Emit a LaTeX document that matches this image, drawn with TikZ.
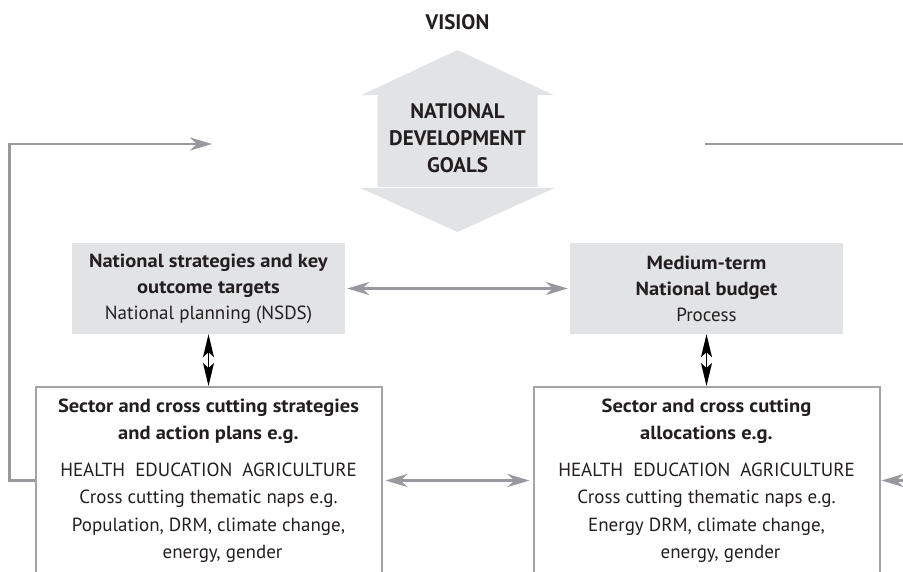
\documentclass[tikz,border=0pt]{standalone}
\usepackage{fontspec}
\setmainfont{PT Sans}[BoldFeatures={FakeStretch=1.08}]
\newfontfamily\headfont{PT Sans}
\usepackage{tikz}
\usetikzlibrary{arrows.meta, positioning, calc}
\definecolor{boxgrey}{RGB}{226,227,229}
\definecolor{linegrey}{RGB}{152,153,156}
\definecolor{edgegrey}{RGB}{163,164,166}
\definecolor{inkgrey}{RGB}{35,31,32}
\tikzset{
  headline/.style={text=inkgrey, align=center, inner sep=0pt, font=\headfont\bfseries\fontsize{21}{27}\selectfont},
  greybox/.style={fill=boxgrey, text=inkgrey, minimum width=273pt, minimum height=91pt, align=center, inner sep=0pt, font=\fontsize{19}{26}\selectfont},
  planbox/.style={draw=edgegrey, line width=2pt, fill=white, text=inkgrey, minimum width=346pt, minimum height=187pt, align=center, inner sep=0pt, font=\fontsize{19}{27.3}\selectfont},
  link/.style={draw=linegrey, line width=2.8pt, -{Stealth[length=22pt,width=13pt,inset=7pt]}},
  twoway/.style={draw=linegrey, line width=2.8pt, {Stealth[length=22pt,width=13pt,inset=7pt]}-{Stealth[length=22pt,width=13pt,inset=7pt]}},
  updown/.style={draw=black, line width=1.6pt, {Stealth[length=23pt,width=11pt,inset=5pt]}-{Stealth[length=23pt,width=11pt,inset=5pt]}}
}
\begin{document}
\begin{tikzpicture}[x=1pt, y=-1pt]
\useasboundingbox (0,0) rectangle (903,571);
\clip (0,0) rectangle (903,571);
\pgfmathsetmacro{\midx}{457.5}
\pgfmathsetmacro{\leftx}{208.5}
\pgfmathsetmacro{\rightx}{706.5}
\fill[boxgrey] (\midx,50) -- ++(96,45) -- ++(-16,0) -- ++(0,92) -- ++(-160,0) -- ++(0,-92) -- ++(-16,0) -- cycle;
\fill[boxgrey] (\midx,232) -- ++(97,-44) -- ++(-194,0) -- cycle;

\node[headline] (vision) at (\midx,22) {VISION};
\node[headline] (goals) at (\midx,138.5) {NATIONAL\\DEVELOPMENT\\GOALS};

\node[greybox] (nss) at (\leftx,288.5) {\textbf{National strategies and key}\\\textbf{outcome targets}\\National planning (NSDS)};
\node[greybox] (mtb) at (\rightx,288.5) {\textbf{Medium-term}\\\textbf{National budget}\\Process};

\node[planbox, anchor=north] (secstrat) at (\leftx,386) {\textbf{Sector and cross cutting strategies}\\\textbf{and action plans e.g.}\\[10pt]HEALTH\ \ EDUCATION\ \ AGRICULTURE\\Cross cutting thematic naps e.g.\\Population, DRM, climate change,\\\hspace*{28pt}energy, gender};
\node[planbox, anchor=north] (secalloc) at (\rightx,386) {\textbf{Sector and cross cutting}\\\textbf{allocations e.g.}\\[10pt]HEALTH\ \ EDUCATION\ \ AGRICULTURE\\Cross cutting thematic naps e.g.\\Energy DRM, climate change,\\\hspace*{28pt}energy, gender};

\coordinate (goalsin) at (212,144);
\coordinate (goalsout) at (705,144);

\draw[twoway, shorten <=2pt, shorten >=2pt] (nss.east) -- (mtb.west);
\draw[updown] (nss.south) -- (secstrat.north);
\draw[updown] (mtb.south) -- (secalloc.north);
\draw[twoway, shorten <=3pt, shorten >=3pt] (secstrat.east) -- (secalloc.west);
\draw[link] (secstrat.west) -- ++(-25,0) |- (goalsin);
\draw[link, shorten >=1pt] (goalsout) -- (925,144) |- (secalloc.east);
\end{tikzpicture}
\end{document}
